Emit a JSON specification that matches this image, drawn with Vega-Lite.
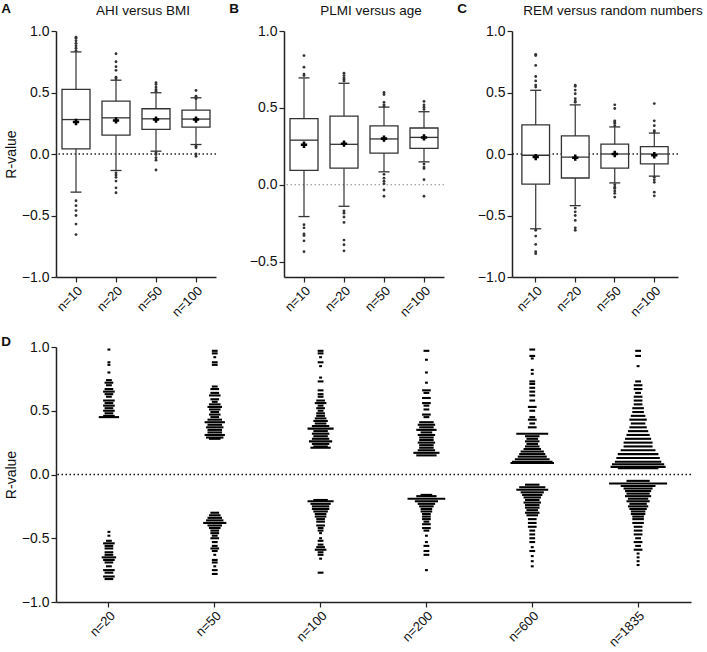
{
  "$schema": "https://vega.github.io/schema/vega-lite/v6.json",
  "padding": {"left": 1, "top": 2, "right": 1, "bottom": 1},
  "background": "white",
  "config": {
    "font": "Liberation Sans",
    "view": {"stroke": null},
    "axis": {"grid": false, "domainColor": "#222", "domainWidth": 1.5, "tickColor": "#222", "tickWidth": 1.2, "tickSize": 5, "labelColor": "#111", "labelFontSize": 14, "titleFontSize": 14, "titleFontWeight": "normal", "titleColor": "#111", "labelPadding": 2, "titlePadding": 3},
    "axisX": {"labelAngle": -45, "labelFontSize": 13, "title": null},
    "title": {"fontSize": 13.5, "fontWeight": "normal", "color": "#111"}
  },
  "datasets": {
    "boxA": [
      {"g": "n=10", "lo": -0.31, "q1": 0.042, "med": 0.28, "q3": 0.525, "hi": 0.83, "mean": 0.26},
      {"g": "n=20", "lo": -0.134, "q1": 0.153, "med": 0.294, "q3": 0.43, "hi": 0.6, "mean": 0.273},
      {"g": "n=50", "lo": 0.023, "q1": 0.2, "med": 0.286, "q3": 0.368, "hi": 0.498, "mean": 0.28},
      {"g": "n=100", "lo": 0.077, "q1": 0.218, "med": 0.284, "q3": 0.357, "hi": 0.457, "mean": 0.28}
    ],
    "outA": [
      {"g": "n=10", "r": 0.95}, {"g": "n=10", "r": 0.94}, {"g": "n=10", "r": 0.92}, {"g": "n=10", "r": 0.9}, {"g": "n=10", "r": 0.88}, {"g": "n=10", "r": 0.86}, {"g": "n=10", "r": 0.84},
      {"g": "n=10", "r": -0.38}, {"g": "n=10", "r": -0.42}, {"g": "n=10", "r": -0.46}, {"g": "n=10", "r": -0.5}, {"g": "n=10", "r": -0.57}, {"g": "n=10", "r": -0.655},
      {"g": "n=20", "r": 0.815}, {"g": "n=20", "r": 0.75}, {"g": "n=20", "r": 0.71}, {"g": "n=20", "r": 0.68}, {"g": "n=20", "r": 0.625}, {"g": "n=20", "r": 0.612},
      {"g": "n=20", "r": -0.153}, {"g": "n=20", "r": -0.17}, {"g": "n=20", "r": -0.19}, {"g": "n=20", "r": -0.22}, {"g": "n=20", "r": -0.275}, {"g": "n=20", "r": -0.315},
      {"g": "n=50", "r": 0.58}, {"g": "n=50", "r": 0.566}, {"g": "n=50", "r": 0.544}, {"g": "n=50", "r": 0.525}, {"g": "n=50", "r": 0.51},
      {"g": "n=50", "r": 0.01}, {"g": "n=50", "r": -0.004}, {"g": "n=50", "r": -0.03}, {"g": "n=50", "r": -0.05}, {"g": "n=50", "r": -0.13},
      {"g": "n=100", "r": 0.517}, {"g": "n=100", "r": 0.47}, {"g": "n=100", "r": 0.46}, {"g": "n=100", "r": 0.45},
      {"g": "n=100", "r": 0.064}, {"g": "n=100", "r": 0.05}, {"g": "n=100", "r": 0.0}, {"g": "n=100", "r": -0.018}
    ],
    "boxB": [
      {"g": "n=10", "lo": -0.207, "q1": 0.094, "med": 0.29, "q3": 0.43, "hi": 0.695, "mean": 0.26},
      {"g": "n=20", "lo": -0.14, "q1": 0.108, "med": 0.263, "q3": 0.446, "hi": 0.66, "mean": 0.267},
      {"g": "n=50", "lo": 0.084, "q1": 0.206, "med": 0.298, "q3": 0.383, "hi": 0.505, "mean": 0.3},
      {"g": "n=100", "lo": 0.149, "q1": 0.237, "med": 0.308, "q3": 0.369, "hi": 0.475, "mean": 0.308}
    ],
    "outB": [
      {"g": "n=10", "r": 0.84}, {"g": "n=10", "r": 0.765}, {"g": "n=10", "r": 0.72}, {"g": "n=10", "r": 0.71},
      {"g": "n=10", "r": -0.26}, {"g": "n=10", "r": -0.28}, {"g": "n=10", "r": -0.32}, {"g": "n=10", "r": -0.33}, {"g": "n=10", "r": -0.365}, {"g": "n=10", "r": -0.435},
      {"g": "n=20", "r": 0.725}, {"g": "n=20", "r": 0.71}, {"g": "n=20", "r": 0.695}, {"g": "n=20", "r": 0.685}, {"g": "n=20", "r": 0.675},
      {"g": "n=20", "r": -0.17}, {"g": "n=20", "r": -0.185}, {"g": "n=20", "r": -0.21}, {"g": "n=20", "r": -0.245}, {"g": "n=20", "r": -0.36}, {"g": "n=20", "r": -0.39}, {"g": "n=20", "r": -0.43},
      {"g": "n=50", "r": 0.6}, {"g": "n=50", "r": 0.587}, {"g": "n=50", "r": 0.536}, {"g": "n=50", "r": 0.52}, {"g": "n=50", "r": 0.51},
      {"g": "n=50", "r": 0.068}, {"g": "n=50", "r": 0.043}, {"g": "n=50", "r": 0.023}, {"g": "n=50", "r": 0.007}, {"g": "n=50", "r": -0.034}, {"g": "n=50", "r": -0.075},
      {"g": "n=100", "r": 0.542}, {"g": "n=100", "r": 0.52}, {"g": "n=100", "r": 0.504}, {"g": "n=100", "r": 0.49},
      {"g": "n=100", "r": 0.135}, {"g": "n=100", "r": 0.115}, {"g": "n=100", "r": 0.105}, {"g": "n=100", "r": 0.033}, {"g": "n=100", "r": -0.075}
    ],
    "boxC": [
      {"g": "n=10", "lo": -0.608, "q1": -0.245, "med": -0.01, "q3": 0.236, "hi": 0.518, "mean": -0.025},
      {"g": "n=20", "lo": -0.42, "q1": -0.195, "med": -0.025, "q3": 0.147, "hi": 0.4, "mean": -0.03},
      {"g": "n=50", "lo": -0.235, "q1": -0.115, "med": 0.0, "q3": 0.08, "hi": 0.22, "mean": 0.0},
      {"g": "n=100", "lo": -0.18, "q1": -0.08, "med": 0.0, "q3": 0.06, "hi": 0.17, "mean": -0.01}
    ],
    "outC": [
      {"g": "n=10", "r": 0.81}, {"g": "n=10", "r": 0.8}, {"g": "n=10", "r": 0.72}, {"g": "n=10", "r": 0.63}, {"g": "n=10", "r": 0.594}, {"g": "n=10", "r": 0.56}, {"g": "n=10", "r": 0.545},
      {"g": "n=10", "r": -0.62}, {"g": "n=10", "r": -0.667}, {"g": "n=10", "r": -0.735}, {"g": "n=10", "r": -0.795}, {"g": "n=10", "r": -0.81},
      {"g": "n=20", "r": 0.56}, {"g": "n=20", "r": 0.55}, {"g": "n=20", "r": 0.52}, {"g": "n=20", "r": 0.49}, {"g": "n=20", "r": 0.45}, {"g": "n=20", "r": 0.43}, {"g": "n=20", "r": 0.42},
      {"g": "n=20", "r": -0.44}, {"g": "n=20", "r": -0.47}, {"g": "n=20", "r": -0.5}, {"g": "n=20", "r": -0.54}, {"g": "n=20", "r": -0.6}, {"g": "n=20", "r": -0.62},
      {"g": "n=50", "r": 0.4}, {"g": "n=50", "r": 0.37}, {"g": "n=50", "r": 0.27}, {"g": "n=50", "r": 0.26}, {"g": "n=50", "r": 0.25}, {"g": "n=50", "r": 0.23},
      {"g": "n=50", "r": -0.25}, {"g": "n=50", "r": -0.27}, {"g": "n=50", "r": -0.28}, {"g": "n=50", "r": -0.3}, {"g": "n=50", "r": -0.32}, {"g": "n=50", "r": -0.35},
      {"g": "n=100", "r": 0.41}, {"g": "n=100", "r": 0.27}, {"g": "n=100", "r": 0.23}, {"g": "n=100", "r": 0.19}, {"g": "n=100", "r": 0.18},
      {"g": "n=100", "r": -0.19}, {"g": "n=100", "r": -0.21}, {"g": "n=100", "r": -0.23}, {"g": "n=100", "r": -0.31}, {"g": "n=100", "r": -0.34}
    ],
    "swarm": [
      {"g": "n=20", "r": 0.98, "c": 1}, {"g": "n=20", "r": 0.88, "c": 1}, {"g": "n=20", "r": 0.86, "c": 1}, {"g": "n=20", "r": 0.8, "c": 1}, {"g": "n=20", "r": 0.74, "c": 2}, {"g": "n=20", "r": 0.72, "c": 3}, {"g": "n=20", "r": 0.7, "c": 2}, {"g": "n=20", "r": 0.67, "c": 3}, {"g": "n=20", "r": 0.65, "c": 4}, {"g": "n=20", "r": 0.63, "c": 3}, {"g": "n=20", "r": 0.61, "c": 2}, {"g": "n=20", "r": 0.58, "c": 4}, {"g": "n=20", "r": 0.56, "c": 3}, {"g": "n=20", "r": 0.54, "c": 4}, {"g": "n=20", "r": 0.52, "c": 3}, {"g": "n=20", "r": 0.5, "c": 4}, {"g": "n=20", "r": 0.48, "c": 3}, {"g": "n=20", "r": 0.46, "c": 4}, {"g": "n=20", "r": 0.45, "c": 7},
      {"g": "n=20", "r": -0.45, "c": 1}, {"g": "n=20", "r": -0.48, "c": 1}, {"g": "n=20", "r": -0.52, "c": 2}, {"g": "n=20", "r": -0.54, "c": 4}, {"g": "n=20", "r": -0.56, "c": 3}, {"g": "n=20", "r": -0.58, "c": 3}, {"g": "n=20", "r": -0.61, "c": 3}, {"g": "n=20", "r": -0.63, "c": 3}, {"g": "n=20", "r": -0.65, "c": 5}, {"g": "n=20", "r": -0.67, "c": 4}, {"g": "n=20", "r": -0.69, "c": 3}, {"g": "n=20", "r": -0.72, "c": 2}, {"g": "n=20", "r": -0.75, "c": 4}, {"g": "n=20", "r": -0.77, "c": 3}, {"g": "n=20", "r": -0.8, "c": 4}, {"g": "n=20", "r": -0.82, "c": 3},
      {"g": "n=50", "r": 0.97, "c": 2}, {"g": "n=50", "r": 0.95, "c": 2}, {"g": "n=50", "r": 0.92, "c": 1}, {"g": "n=50", "r": 0.88, "c": 2}, {"g": "n=50", "r": 0.86, "c": 2}, {"g": "n=50", "r": 0.69, "c": 2}, {"g": "n=50", "r": 0.67, "c": 3}, {"g": "n=50", "r": 0.64, "c": 3}, {"g": "n=50", "r": 0.62, "c": 4}, {"g": "n=50", "r": 0.59, "c": 3}, {"g": "n=50", "r": 0.57, "c": 2}, {"g": "n=50", "r": 0.55, "c": 4}, {"g": "n=50", "r": 0.53, "c": 5}, {"g": "n=50", "r": 0.51, "c": 4}, {"g": "n=50", "r": 0.49, "c": 3}, {"g": "n=50", "r": 0.47, "c": 4}, {"g": "n=50", "r": 0.45, "c": 3}, {"g": "n=50", "r": 0.43, "c": 5}, {"g": "n=50", "r": 0.41, "c": 7}, {"g": "n=50", "r": 0.39, "c": 5}, {"g": "n=50", "r": 0.37, "c": 6}, {"g": "n=50", "r": 0.35, "c": 5}, {"g": "n=50", "r": 0.33, "c": 5}, {"g": "n=50", "r": 0.31, "c": 7}, {"g": "n=50", "r": 0.29, "c": 6}, {"g": "n=50", "r": 0.28, "c": 4},
      {"g": "n=50", "r": -0.3, "c": 3}, {"g": "n=50", "r": -0.32, "c": 4}, {"g": "n=50", "r": -0.34, "c": 5}, {"g": "n=50", "r": -0.36, "c": 6}, {"g": "n=50", "r": -0.38, "c": 8}, {"g": "n=50", "r": -0.4, "c": 5}, {"g": "n=50", "r": -0.42, "c": 4}, {"g": "n=50", "r": -0.44, "c": 3}, {"g": "n=50", "r": -0.46, "c": 3}, {"g": "n=50", "r": -0.48, "c": 2}, {"g": "n=50", "r": -0.5, "c": 3}, {"g": "n=50", "r": -0.53, "c": 2}, {"g": "n=50", "r": -0.56, "c": 2}, {"g": "n=50", "r": -0.58, "c": 3}, {"g": "n=50", "r": -0.6, "c": 2}, {"g": "n=50", "r": -0.63, "c": 1}, {"g": "n=50", "r": -0.67, "c": 2}, {"g": "n=50", "r": -0.69, "c": 2}, {"g": "n=50", "r": -0.72, "c": 1}, {"g": "n=50", "r": -0.75, "c": 2}, {"g": "n=50", "r": -0.78, "c": 2},
      {"g": "n=100", "r": 0.97, "c": 2}, {"g": "n=100", "r": 0.95, "c": 2}, {"g": "n=100", "r": 0.92, "c": 1}, {"g": "n=100", "r": 0.88, "c": 2}, {"g": "n=100", "r": 0.85, "c": 1}, {"g": "n=100", "r": 0.76, "c": 1}, {"g": "n=100", "r": 0.73, "c": 2}, {"g": "n=100", "r": 0.66, "c": 2}, {"g": "n=100", "r": 0.63, "c": 2}, {"g": "n=100", "r": 0.61, "c": 2}, {"g": "n=100", "r": 0.58, "c": 3}, {"g": "n=100", "r": 0.56, "c": 4}, {"g": "n=100", "r": 0.54, "c": 2}, {"g": "n=100", "r": 0.52, "c": 3}, {"g": "n=100", "r": 0.5, "c": 2}, {"g": "n=100", "r": 0.48, "c": 3}, {"g": "n=100", "r": 0.46, "c": 3}, {"g": "n=100", "r": 0.44, "c": 4}, {"g": "n=100", "r": 0.42, "c": 5}, {"g": "n=100", "r": 0.4, "c": 4}, {"g": "n=100", "r": 0.38, "c": 6}, {"g": "n=100", "r": 0.36, "c": 9}, {"g": "n=100", "r": 0.34, "c": 5}, {"g": "n=100", "r": 0.32, "c": 6}, {"g": "n=100", "r": 0.3, "c": 5}, {"g": "n=100", "r": 0.28, "c": 6}, {"g": "n=100", "r": 0.26, "c": 8}, {"g": "n=100", "r": 0.24, "c": 6}, {"g": "n=100", "r": 0.22, "c": 5}, {"g": "n=100", "r": 0.21, "c": 7},
      {"g": "n=100", "r": -0.2, "c": 5}, {"g": "n=100", "r": -0.21, "c": 9}, {"g": "n=100", "r": -0.23, "c": 7}, {"g": "n=100", "r": -0.25, "c": 6}, {"g": "n=100", "r": -0.27, "c": 6}, {"g": "n=100", "r": -0.29, "c": 5}, {"g": "n=100", "r": -0.31, "c": 4}, {"g": "n=100", "r": -0.33, "c": 4}, {"g": "n=100", "r": -0.35, "c": 3}, {"g": "n=100", "r": -0.37, "c": 3}, {"g": "n=100", "r": -0.4, "c": 3}, {"g": "n=100", "r": -0.42, "c": 2}, {"g": "n=100", "r": -0.44, "c": 2}, {"g": "n=100", "r": -0.46, "c": 1}, {"g": "n=100", "r": -0.5, "c": 1}, {"g": "n=100", "r": -0.52, "c": 2}, {"g": "n=100", "r": -0.55, "c": 2}, {"g": "n=100", "r": -0.57, "c": 3}, {"g": "n=100", "r": -0.59, "c": 4}, {"g": "n=100", "r": -0.61, "c": 2}, {"g": "n=100", "r": -0.63, "c": 2}, {"g": "n=100", "r": -0.66, "c": 1}, {"g": "n=100", "r": -0.77, "c": 2},
      {"g": "n=200", "r": 0.97, "c": 2}, {"g": "n=200", "r": 0.9, "c": 1}, {"g": "n=200", "r": 0.8, "c": 1}, {"g": "n=200", "r": 0.72, "c": 1}, {"g": "n=200", "r": 0.66, "c": 3}, {"g": "n=200", "r": 0.64, "c": 2}, {"g": "n=200", "r": 0.6, "c": 3}, {"g": "n=200", "r": 0.56, "c": 3}, {"g": "n=200", "r": 0.54, "c": 2}, {"g": "n=200", "r": 0.51, "c": 2}, {"g": "n=200", "r": 0.47, "c": 3}, {"g": "n=200", "r": 0.45, "c": 2}, {"g": "n=200", "r": 0.41, "c": 5}, {"g": "n=200", "r": 0.39, "c": 6}, {"g": "n=200", "r": 0.37, "c": 5}, {"g": "n=200", "r": 0.35, "c": 7}, {"g": "n=200", "r": 0.33, "c": 4}, {"g": "n=200", "r": 0.31, "c": 6}, {"g": "n=200", "r": 0.29, "c": 5}, {"g": "n=200", "r": 0.27, "c": 5}, {"g": "n=200", "r": 0.25, "c": 6}, {"g": "n=200", "r": 0.23, "c": 5}, {"g": "n=200", "r": 0.21, "c": 5}, {"g": "n=200", "r": 0.19, "c": 6}, {"g": "n=200", "r": 0.17, "c": 9}, {"g": "n=200", "r": 0.15, "c": 7},
      {"g": "n=200", "r": -0.16, "c": 4}, {"g": "n=200", "r": -0.17, "c": 7}, {"g": "n=200", "r": -0.19, "c": 13}, {"g": "n=200", "r": -0.21, "c": 8}, {"g": "n=200", "r": -0.23, "c": 6}, {"g": "n=200", "r": -0.25, "c": 5}, {"g": "n=200", "r": -0.27, "c": 4}, {"g": "n=200", "r": -0.29, "c": 4}, {"g": "n=200", "r": -0.31, "c": 3}, {"g": "n=200", "r": -0.33, "c": 3}, {"g": "n=200", "r": -0.35, "c": 3}, {"g": "n=200", "r": -0.37, "c": 2}, {"g": "n=200", "r": -0.39, "c": 3}, {"g": "n=200", "r": -0.42, "c": 3}, {"g": "n=200", "r": -0.44, "c": 2}, {"g": "n=200", "r": -0.48, "c": 1}, {"g": "n=200", "r": -0.53, "c": 1}, {"g": "n=200", "r": -0.56, "c": 2}, {"g": "n=200", "r": -0.6, "c": 2}, {"g": "n=200", "r": -0.63, "c": 2}, {"g": "n=200", "r": -0.75, "c": 1},
      {"g": "n=600", "r": 0.98, "c": 2}, {"g": "n=600", "r": 0.93, "c": 2}, {"g": "n=600", "r": 0.91, "c": 1}, {"g": "n=600", "r": 0.82, "c": 1}, {"g": "n=600", "r": 0.79, "c": 1}, {"g": "n=600", "r": 0.73, "c": 2}, {"g": "n=600", "r": 0.71, "c": 2}, {"g": "n=600", "r": 0.68, "c": 2}, {"g": "n=600", "r": 0.65, "c": 2}, {"g": "n=600", "r": 0.62, "c": 2}, {"g": "n=600", "r": 0.58, "c": 2}, {"g": "n=600", "r": 0.53, "c": 3}, {"g": "n=600", "r": 0.5, "c": 2}, {"g": "n=600", "r": 0.45, "c": 2}, {"g": "n=600", "r": 0.43, "c": 3}, {"g": "n=600", "r": 0.4, "c": 2}, {"g": "n=600", "r": 0.37, "c": 3}, {"g": "n=600", "r": 0.32, "c": 11}, {"g": "n=600", "r": 0.3, "c": 5}, {"g": "n=600", "r": 0.28, "c": 4}, {"g": "n=600", "r": 0.26, "c": 5}, {"g": "n=600", "r": 0.24, "c": 4}, {"g": "n=600", "r": 0.22, "c": 5}, {"g": "n=600", "r": 0.2, "c": 6}, {"g": "n=600", "r": 0.18, "c": 8}, {"g": "n=600", "r": 0.16, "c": 9}, {"g": "n=600", "r": 0.14, "c": 10}, {"g": "n=600", "r": 0.12, "c": 12}, {"g": "n=600", "r": 0.1, "c": 14}, {"g": "n=600", "r": 0.09, "c": 15},
      {"g": "n=600", "r": -0.08, "c": 5}, {"g": "n=600", "r": -0.1, "c": 9}, {"g": "n=600", "r": -0.12, "c": 11}, {"g": "n=600", "r": -0.14, "c": 8}, {"g": "n=600", "r": -0.16, "c": 7}, {"g": "n=600", "r": -0.18, "c": 6}, {"g": "n=600", "r": -0.2, "c": 5}, {"g": "n=600", "r": -0.22, "c": 6}, {"g": "n=600", "r": -0.24, "c": 5}, {"g": "n=600", "r": -0.26, "c": 5}, {"g": "n=600", "r": -0.28, "c": 4}, {"g": "n=600", "r": -0.3, "c": 5}, {"g": "n=600", "r": -0.32, "c": 4}, {"g": "n=600", "r": -0.35, "c": 3}, {"g": "n=600", "r": -0.38, "c": 3}, {"g": "n=600", "r": -0.41, "c": 3}, {"g": "n=600", "r": -0.44, "c": 2}, {"g": "n=600", "r": -0.47, "c": 2}, {"g": "n=600", "r": -0.5, "c": 2}, {"g": "n=600", "r": -0.53, "c": 2}, {"g": "n=600", "r": -0.57, "c": 1}, {"g": "n=600", "r": -0.6, "c": 2}, {"g": "n=600", "r": -0.64, "c": 1}, {"g": "n=600", "r": -0.68, "c": 1}, {"g": "n=600", "r": -0.72, "c": 1},
      {"g": "n=1835", "r": 0.97, "c": 2}, {"g": "n=1835", "r": 0.93, "c": 2}, {"g": "n=1835", "r": 0.85, "c": 1}, {"g": "n=1835", "r": 0.73, "c": 2}, {"g": "n=1835", "r": 0.7, "c": 3}, {"g": "n=1835", "r": 0.67, "c": 3}, {"g": "n=1835", "r": 0.64, "c": 2}, {"g": "n=1835", "r": 0.61, "c": 3}, {"g": "n=1835", "r": 0.58, "c": 3}, {"g": "n=1835", "r": 0.55, "c": 3}, {"g": "n=1835", "r": 0.52, "c": 4}, {"g": "n=1835", "r": 0.49, "c": 4}, {"g": "n=1835", "r": 0.46, "c": 5}, {"g": "n=1835", "r": 0.43, "c": 6}, {"g": "n=1835", "r": 0.4, "c": 5}, {"g": "n=1835", "r": 0.37, "c": 6}, {"g": "n=1835", "r": 0.34, "c": 7}, {"g": "n=1835", "r": 0.31, "c": 8}, {"g": "n=1835", "r": 0.28, "c": 9}, {"g": "n=1835", "r": 0.25, "c": 10}, {"g": "n=1835", "r": 0.22, "c": 10}, {"g": "n=1835", "r": 0.19, "c": 12}, {"g": "n=1835", "r": 0.16, "c": 14}, {"g": "n=1835", "r": 0.13, "c": 15}, {"g": "n=1835", "r": 0.1, "c": 16}, {"g": "n=1835", "r": 0.08, "c": 18}, {"g": "n=1835", "r": 0.06, "c": 19}, {"g": "n=1835", "r": 0.05, "c": 14},
      {"g": "n=1835", "r": -0.05, "c": 8}, {"g": "n=1835", "r": -0.07, "c": 20}, {"g": "n=1835", "r": -0.09, "c": 12}, {"g": "n=1835", "r": -0.11, "c": 10}, {"g": "n=1835", "r": -0.13, "c": 9}, {"g": "n=1835", "r": -0.15, "c": 8}, {"g": "n=1835", "r": -0.17, "c": 9}, {"g": "n=1835", "r": -0.19, "c": 7}, {"g": "n=1835", "r": -0.21, "c": 8}, {"g": "n=1835", "r": -0.23, "c": 6}, {"g": "n=1835", "r": -0.25, "c": 7}, {"g": "n=1835", "r": -0.27, "c": 6}, {"g": "n=1835", "r": -0.29, "c": 5}, {"g": "n=1835", "r": -0.31, "c": 5}, {"g": "n=1835", "r": -0.33, "c": 4}, {"g": "n=1835", "r": -0.35, "c": 4}, {"g": "n=1835", "r": -0.38, "c": 4}, {"g": "n=1835", "r": -0.41, "c": 3}, {"g": "n=1835", "r": -0.44, "c": 3}, {"g": "n=1835", "r": -0.47, "c": 3}, {"g": "n=1835", "r": -0.5, "c": 2}, {"g": "n=1835", "r": -0.53, "c": 3}, {"g": "n=1835", "r": -0.56, "c": 2}, {"g": "n=1835", "r": -0.59, "c": 3}, {"g": "n=1835", "r": -0.62, "c": 1}, {"g": "n=1835", "r": -0.65, "c": 1}, {"g": "n=1835", "r": -0.68, "c": 1}, {"g": "n=1835", "r": -0.71, "c": 1}
    ]
  },
  "spacing": 14,
  "vconcat": [
    {
      "spacing": 12,
      "hconcat": [
        {
          "title": {"text": "A", "anchor": "start", "frame": "bounds", "fontWeight": "bold", "dy": 16, "dx": -3},
          "vconcat": [
            {
              "title": {"text": "AHI versus BMI", "anchor": "middle", "offset": 7, "dx": 7},
              "width": 160, "height": 246,
              "layer": [
                {"data": {"values": [{}]}, "mark": {"type": "rule", "strokeDash": [1.5, 2.5], "color": "#222", "strokeWidth": 1.3}, "encoding": {"y": {"datum": 0, "type": "quantitative", "scale": {"domain": [-1, 1]}, "axis": {"values": [-1, -0.5, 0, 0.5, 1], "format": ".1f", "title": "R-value"}}}},
                {"data": {"name": "boxA"}, "mark": {"type": "rule", "color": "#333", "strokeWidth": 1.2}, "encoding": {"x": {"field": "g", "type": "nominal", "sort": ["n=10", "n=20", "n=50", "n=100"], "scale": {"type": "band", "paddingInner": 0, "paddingOuter": 0}}, "y": {"field": "lo", "type": "quantitative", "scale": {"domain": [-1, 1]}, "title": "R-value"}, "y2": {"field": "hi"}}},
                {"data": {"name": "boxA"}, "mark": {"type": "bar", "fill": "white", "stroke": "#333", "strokeWidth": 1.3, "width": {"band": 0.7}}, "encoding": {"x": {"field": "g", "type": "nominal", "sort": ["n=10", "n=20", "n=50", "n=100"]}, "y": {"field": "q1", "type": "quantitative", "title": "R-value"}, "y2": {"field": "q3"}}},
                {"data": {"name": "boxA"}, "mark": {"type": "tick", "orient": "horizontal", "color": "#333", "size": 28, "thickness": 1.3, "opacity": 1}, "encoding": {"x": {"field": "g", "type": "nominal", "sort": ["n=10", "n=20", "n=50", "n=100"]}, "y": {"field": "med", "type": "quantitative", "title": "R-value"}}},
                {"data": {"name": "boxA"}, "mark": {"type": "tick", "orient": "horizontal", "color": "#333", "size": 11, "thickness": 1.3, "opacity": 1}, "encoding": {"x": {"field": "g", "type": "nominal", "sort": ["n=10", "n=20", "n=50", "n=100"]}, "y": {"field": "lo", "type": "quantitative", "title": "R-value"}}},
                {"data": {"name": "boxA"}, "mark": {"type": "tick", "orient": "horizontal", "color": "#333", "size": 11, "thickness": 1.3, "opacity": 1}, "encoding": {"x": {"field": "g", "type": "nominal", "sort": ["n=10", "n=20", "n=50", "n=100"]}, "y": {"field": "hi", "type": "quantitative", "title": "R-value"}}},
                {"data": {"name": "outA"}, "mark": {"type": "circle", "color": "#333", "size": 8, "opacity": 1}, "encoding": {"x": {"field": "g", "type": "nominal", "sort": ["n=10", "n=20", "n=50", "n=100"]}, "y": {"field": "r", "type": "quantitative", "title": "R-value"}}},
                {"data": {"name": "boxA"}, "mark": {"type": "point", "shape": "cross", "filled": true, "color": "#000", "size": 40, "opacity": 1}, "encoding": {"x": {"field": "g", "type": "nominal", "sort": ["n=10", "n=20", "n=50", "n=100"]}, "y": {"field": "mean", "type": "quantitative", "title": "R-value"}}}
              ]
            }
          ]
        },
        {
          "title": {"text": "B", "anchor": "start", "frame": "bounds", "fontWeight": "bold", "dy": 16, "dx": -20},
          "vconcat": [
            {
              "title": {"text": "PLMI versus age", "anchor": "middle", "offset": 7, "dx": 7},
              "width": 160, "height": 246,
              "layer": [
                {"data": {"values": [{}]}, "mark": {"type": "rule", "strokeDash": [1.5, 2.5], "color": "#888", "strokeWidth": 1.2}, "encoding": {"y": {"datum": 0, "type": "quantitative", "scale": {"domain": [-0.5, 1]}, "axis": {"values": [-0.5, 0, 0.5, 1], "format": ".1f", "title": null}}}},
                {"data": {"name": "boxB"}, "mark": {"type": "rule", "color": "#333", "strokeWidth": 1.2}, "encoding": {"x": {"field": "g", "type": "nominal", "sort": ["n=10", "n=20", "n=50", "n=100"], "scale": {"type": "band", "paddingInner": 0, "paddingOuter": 0}}, "y": {"field": "lo", "type": "quantitative", "scale": {"domain": [-0.5, 1]}, "title": null}, "y2": {"field": "hi"}}},
                {"data": {"name": "boxB"}, "mark": {"type": "bar", "fill": "white", "stroke": "#333", "strokeWidth": 1.3, "width": {"band": 0.7}}, "encoding": {"x": {"field": "g", "type": "nominal", "sort": ["n=10", "n=20", "n=50", "n=100"]}, "y": {"field": "q1", "type": "quantitative", "title": null}, "y2": {"field": "q3"}}},
                {"data": {"name": "boxB"}, "mark": {"type": "tick", "orient": "horizontal", "color": "#333", "size": 28, "thickness": 1.3, "opacity": 1}, "encoding": {"x": {"field": "g", "type": "nominal", "sort": ["n=10", "n=20", "n=50", "n=100"]}, "y": {"field": "med", "type": "quantitative", "title": null}}},
                {"data": {"name": "boxB"}, "mark": {"type": "tick", "orient": "horizontal", "color": "#333", "size": 11, "thickness": 1.3, "opacity": 1}, "encoding": {"x": {"field": "g", "type": "nominal", "sort": ["n=10", "n=20", "n=50", "n=100"]}, "y": {"field": "lo", "type": "quantitative", "title": null}}},
                {"data": {"name": "boxB"}, "mark": {"type": "tick", "orient": "horizontal", "color": "#333", "size": 11, "thickness": 1.3, "opacity": 1}, "encoding": {"x": {"field": "g", "type": "nominal", "sort": ["n=10", "n=20", "n=50", "n=100"]}, "y": {"field": "hi", "type": "quantitative", "title": null}}},
                {"data": {"name": "outB"}, "mark": {"type": "circle", "color": "#333", "size": 8, "opacity": 1}, "encoding": {"x": {"field": "g", "type": "nominal", "sort": ["n=10", "n=20", "n=50", "n=100"]}, "y": {"field": "r", "type": "quantitative", "title": null}}},
                {"data": {"name": "boxB"}, "mark": {"type": "point", "shape": "cross", "filled": true, "color": "#000", "size": 40, "opacity": 1}, "encoding": {"x": {"field": "g", "type": "nominal", "sort": ["n=10", "n=20", "n=50", "n=100"]}, "y": {"field": "mean", "type": "quantitative", "title": null}}}
              ]
            }
          ]
        },
        {
          "title": {"text": "C", "anchor": "start", "frame": "bounds", "fontWeight": "bold", "dy": 16, "dx": -20},
          "vconcat": [
            {
              "title": {"text": "REM versus random numbers", "anchor": "middle", "offset": 7, "dx": 18},
              "width": 166, "height": 246,
              "layer": [
                {"data": {"values": [{}]}, "mark": {"type": "rule", "strokeDash": [1.5, 2.5], "color": "#222", "strokeWidth": 1.3}, "encoding": {"y": {"datum": 0, "type": "quantitative", "scale": {"domain": [-1, 1]}, "axis": {"values": [-1, -0.5, 0, 0.5, 1], "format": ".1f", "title": null}}}},
                {"data": {"name": "boxC"}, "mark": {"type": "rule", "color": "#333", "strokeWidth": 1.2}, "encoding": {"x": {"field": "g", "type": "nominal", "sort": ["n=10", "n=20", "n=50", "n=100"], "scale": {"type": "band", "paddingInner": 0, "paddingOuter": 0.1}}, "y": {"field": "lo", "type": "quantitative", "scale": {"domain": [-1, 1]}, "title": null}, "y2": {"field": "hi"}}},
                {"data": {"name": "boxC"}, "mark": {"type": "bar", "fill": "white", "stroke": "#333", "strokeWidth": 1.3, "width": {"band": 0.7}}, "encoding": {"x": {"field": "g", "type": "nominal", "sort": ["n=10", "n=20", "n=50", "n=100"]}, "y": {"field": "q1", "type": "quantitative", "title": null}, "y2": {"field": "q3"}}},
                {"data": {"name": "boxC"}, "mark": {"type": "tick", "orient": "horizontal", "color": "#333", "size": 28, "thickness": 1.3, "opacity": 1}, "encoding": {"x": {"field": "g", "type": "nominal", "sort": ["n=10", "n=20", "n=50", "n=100"]}, "y": {"field": "med", "type": "quantitative", "title": null}}},
                {"data": {"name": "boxC"}, "mark": {"type": "tick", "orient": "horizontal", "color": "#333", "size": 11, "thickness": 1.3, "opacity": 1}, "encoding": {"x": {"field": "g", "type": "nominal", "sort": ["n=10", "n=20", "n=50", "n=100"]}, "y": {"field": "lo", "type": "quantitative", "title": null}}},
                {"data": {"name": "boxC"}, "mark": {"type": "tick", "orient": "horizontal", "color": "#333", "size": 11, "thickness": 1.3, "opacity": 1}, "encoding": {"x": {"field": "g", "type": "nominal", "sort": ["n=10", "n=20", "n=50", "n=100"]}, "y": {"field": "hi", "type": "quantitative", "title": null}}},
                {"data": {"name": "outC"}, "mark": {"type": "circle", "color": "#333", "size": 8, "opacity": 1}, "encoding": {"x": {"field": "g", "type": "nominal", "sort": ["n=10", "n=20", "n=50", "n=100"]}, "y": {"field": "r", "type": "quantitative", "title": null}}},
                {"data": {"name": "boxC"}, "mark": {"type": "point", "shape": "cross", "filled": true, "color": "#000", "size": 40, "opacity": 1}, "encoding": {"x": {"field": "g", "type": "nominal", "sort": ["n=10", "n=20", "n=50", "n=100"]}, "y": {"field": "mean", "type": "quantitative", "title": null}}}
              ]
            }
          ]
        }
      ]
    },
    {
      "title": {"text": "D", "anchor": "start", "frame": "bounds", "fontWeight": "bold", "offset": -8, "dx": -3},
      "width": 635, "height": 255,
      "layer": [
        {"data": {"values": [{}]}, "mark": {"type": "rule", "strokeDash": [1.5, 2.5], "color": "#111", "strokeWidth": 1.6}, "encoding": {"y": {"datum": 0, "type": "quantitative", "scale": {"domain": [-1, 1]}, "axis": {"values": [-1, -0.5, 0, 0.5, 1], "format": ".1f", "title": "R-value"}}}},
        {"data": {"name": "swarm"}, "mark": {"type": "tick", "orient": "horizontal", "color": "#000", "thickness": 2.1, "opacity": 1}, "encoding": {"x": {"field": "g", "type": "nominal", "sort": ["n=20", "n=50", "n=100", "n=200", "n=600", "n=1835"], "scale": {"type": "band", "paddingInner": 0, "paddingOuter": 0}}, "y": {"field": "r", "type": "quantitative", "scale": {"domain": [-1, 1]}, "title": "R-value"}, "size": {"field": "c", "type": "quantitative", "scale": {"domain": [0, 20], "range": [0, 58]}, "legend": null}}}
      ]
    }
  ]
}
